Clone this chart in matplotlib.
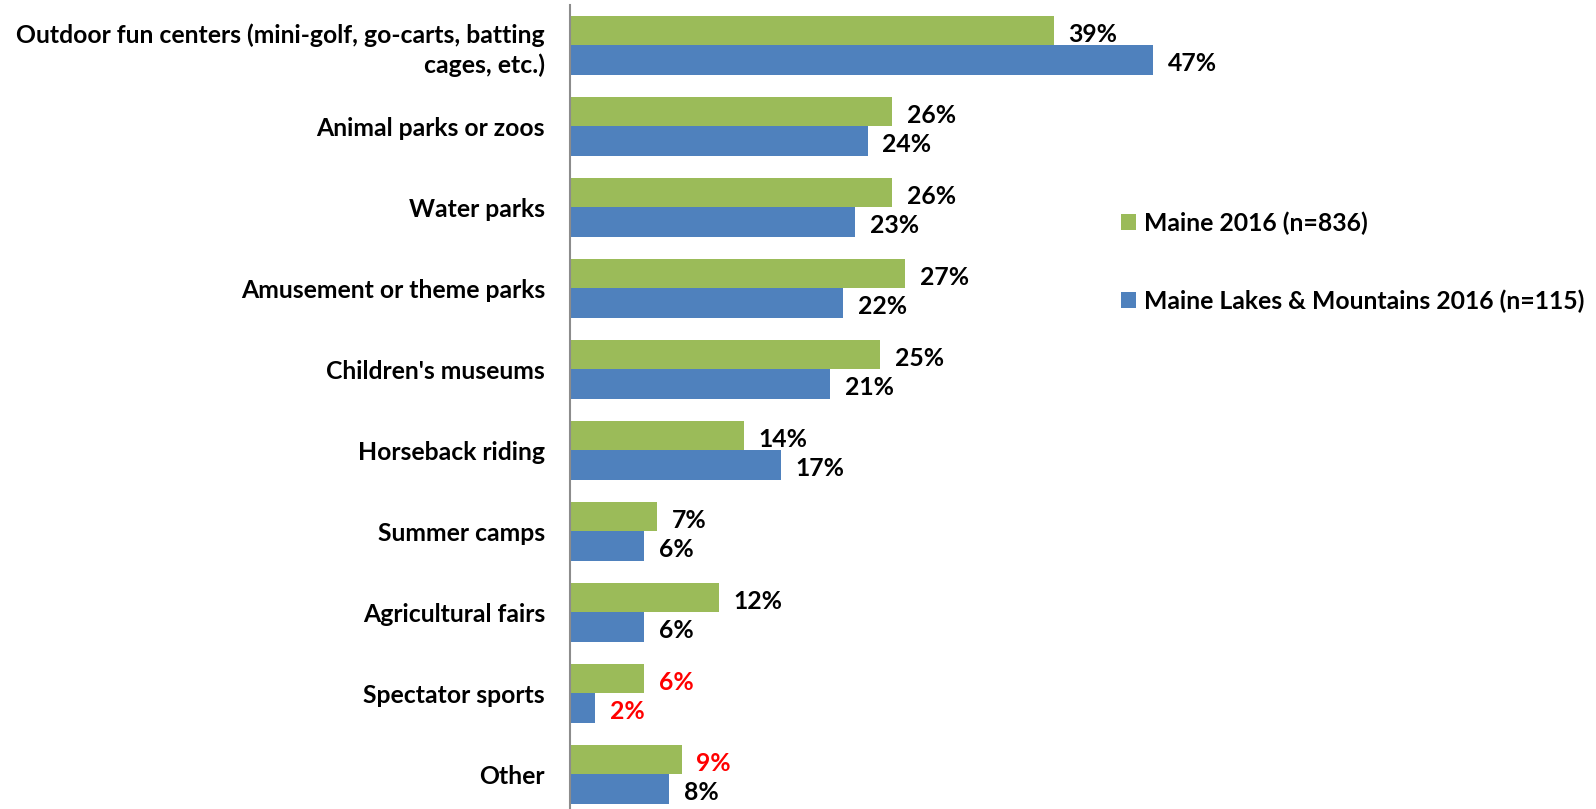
import matplotlib
matplotlib.use("Agg")
import matplotlib.pyplot as plt
from matplotlib.patches import Patch
import numpy as np

plt.rcParams['font.family'] = ['Lato', 'DejaVu Sans']

categories = [
    "Outdoor fun centers (mini-golf, go-carts, batting\ncages, etc.)",
    "Animal parks or zoos",
    "Water parks",
    "Amusement or theme parks",
    "Children's museums",
    "Horseback riding",
    "Summer camps",
    "Agricultural fairs",
    "Spectator sports",
    "Other",
]
maine_2016 = [39, 26, 26, 27, 25, 14, 7, 12, 6, 9]
lakes_mountains_2016 = [47, 24, 23, 22, 21, 17, 6, 6, 2, 8]
series_names = ["Maine 2016 (n=836)", "Maine Lakes & Mountains 2016 (n=115)"]

# labels flagged in red (small base sizes)
red_maine = [False] * 8 + [True, True]
red_lakes = [False] * 8 + [True, False]

GREEN = "#9BBB59"
BLUE = "#4F81BD"

W, H = 1596, 809
fig = plt.figure(figsize=(W / 100, H / 100), dpi=100)

# axes placed in pixel terms: y-axis at x=570, 12.4 px per percentage point
x0 = 570
px_per_pct = 12.4
xmax = 50
top_px = 4.8
row_px = 81.0
n = len(categories)
ax_h = row_px * n
ax = fig.add_axes([x0 / W, 1 - (top_px + ax_h) / H, xmax * px_per_pct / W, ax_h / H])

y = np.arange(n)
bh = 0.362
ax.barh(y - bh / 2, maine_2016, height=bh, color=GREEN, label=series_names[0])
ax.barh(y + bh / 2, lakes_mountains_2016, height=bh, color=BLUE, label=series_names[1])

ax.set_xlim(0, xmax)
ax.set_ylim(n - 0.5, -0.5)

fs = 17.8
dy = 0.045  # nudge value labels onto the bar's visual centre
for i in range(n):
    ax.text(maine_2016[i] + 1.2, y[i] - bh / 2 + dy, f"{maine_2016[i]}%", va="center", ha="left",
            fontsize=fs, fontweight="bold", color="#FF0000" if red_maine[i] else "black")
    ax.text(lakes_mountains_2016[i] + 1.2, y[i] + bh / 2 + dy, f"{lakes_mountains_2016[i]}%", va="center", ha="left",
            fontsize=fs, fontweight="bold", color="#FF0000" if red_lakes[i] else "black")

ax.set_yticks(y)
ax.set_yticklabels(categories, fontsize=fs, fontweight="bold", ha="right", linespacing=1.3)
ax.tick_params(axis="y", length=0, pad=18)
ax.set_xticks([])
for s in ["top", "right", "bottom"]:
    ax.spines[s].set_visible(False)
ax.spines["left"].set_color("#8C8C8C")
ax.spines["left"].set_linewidth(1.5)

handles = [Patch(facecolor=GREEN), Patch(facecolor=BLUE)]
fig.legend(handles, series_names, loc="upper left", bbox_to_anchor=(1099 / W, 1 - 189 / H),
           frameon=False, prop={"weight": "bold", "size": fs},
           handlelength=0.6, handleheight=0.6, handletextpad=0.3, labelspacing=2.2)

fig.savefig("out.png", dpi=100)
